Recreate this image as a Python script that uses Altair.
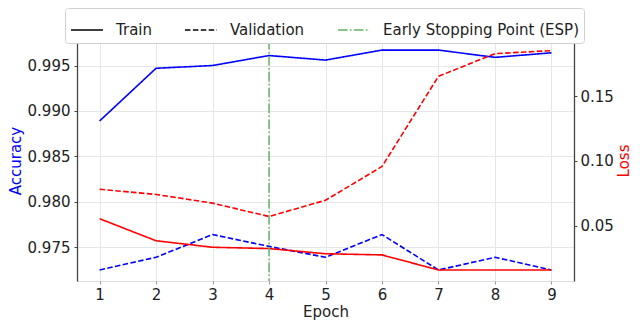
import altair as alt
import pandas as pd

epochs = [1, 2, 3, 4, 5, 6, 7, 8, 9]
train_acc = [0.9889, 0.9947, 0.9950, 0.9961, 0.9956, 0.9967, 0.9967, 0.9959, 0.9964]
val_acc = [0.9725, 0.9739, 0.9764, 0.9751, 0.9739, 0.9764, 0.9725, 0.9739, 0.9725]
train_loss = [0.0555, 0.0385, 0.0335, 0.0325, 0.0285, 0.0276, 0.0160, 0.0160, 0.0160]
val_loss = [0.0782, 0.0742, 0.0675, 0.0572, 0.0697, 0.0957, 0.1652, 0.1827, 0.1850]
esp_epoch = [4]
kinds = ["Train", "Validation"]
series_names = ["Train", "Validation", "Early Stopping Point (ESP)"]
acc_ticks = [0.975, 0.980, 0.985, 0.990, 0.995]
loss_ticks = [0.05, 0.10, 0.15]

acc_df = pd.DataFrame({
    "epoch": epochs + epochs,
    "value": train_acc + val_acc,
    "kind": [kinds[0]] * len(epochs) + [kinds[1]] * len(epochs),
})
loss_df = pd.DataFrame({
    "epoch": epochs + epochs,
    "value": train_loss + val_loss,
    "kind": [kinds[0]] * len(epochs) + [kinds[1]] * len(epochs),
})
esp_df = pd.DataFrame({"epoch": esp_epoch, "series": [series_names[2]]})

FONT = "DejaVu Sans"
W, H = 497, 241
x_scale = alt.Scale(domain=[0.6, 9.4], nice=False, zero=False)
kind_dash = alt.Scale(domain=kinds, range=[[1, 0], [5.5, 2.4]])

acc = alt.Chart(acc_df).mark_line(color="blue", strokeWidth=1.6).encode(
    x=alt.X("epoch:Q", scale=x_scale,
            axis=alt.Axis(orient="bottom", values=epochs, title="Epoch", grid=True, gridColor="#e6e6e6",
                          domain=False, tickSize=3, tickColor="#999999", labelPadding=3,
                          labelFontSize=15, titleFontSize=15, titleFontWeight="normal",
                          labelColor="#222222", titleColor="#222222",
                          titleY=23, titleBaseline="top")),
    y=alt.Y("value:Q", scale=alt.Scale(domain=[0.97129, 0.99781], nice=False, zero=False),
            axis=alt.Axis(orient="left", values=acc_ticks, format=".3f", title="Accuracy",
                          titleColor="blue", grid=True, gridColor="#e6e6e6",
                          tickSize=3, tickColor="#444444", domainColor="#444444", domainWidth=1.3,
                          labelFontSize=15, titleFontSize=15, titleFontWeight="normal",
                          labelColor="#222222", labelPadding=4,
                          titleX=-62, titleY=H / 2, titleAngle=270, titleBaseline="middle",
                          titleAlign="center")),
    strokeDash=alt.StrokeDash("kind:N", scale=kind_dash, legend=None),
)

loss = alt.Chart(loss_df).mark_line(color="red", strokeWidth=1.6).encode(
    x=alt.X("epoch:Q", scale=x_scale, axis=None),
    y=alt.Y("value:Q", scale=alt.Scale(domain=[0.0075, 0.1932], nice=False, zero=False),
            axis=alt.Axis(orient="right", values=loss_ticks, format=".2f", title="Loss",
                          titleColor="red", grid=False,
                          tickSize=3, tickColor="#444444", domainColor="#444444", domainWidth=1.3,
                          labelFontSize=15, titleFontSize=15, titleFontWeight="normal",
                          labelColor="#222222", labelPadding=3,
                          titleX=49, titleY=H / 2, titleAngle=270, titleBaseline="middle",
                          titleAlign="center")),
    strokeDash=alt.StrokeDash("kind:N", scale=kind_dash, legend=None),
)

legend = alt.Legend(orient="none", legendX=-12, legendY=-32, direction="horizontal",
                    title=None, labelFontSize=15, labelFont=FONT, labelColor="#222222",
                    symbolType="stroke", symbolSize=1024, symbolStrokeWidth=1.5,
                    labelOffset=12, columnPadding=30, padding=5, labelLimit=400,
                    strokeColor="#d0d0d0", fillColor="white", cornerRadius=3)

esp = alt.Chart(esp_df).mark_rule(strokeWidth=1.5).encode(
    x=alt.X("epoch:Q", scale=x_scale,
            axis=alt.Axis(orient="top", labels=False, ticks=False, grid=False, title=None,
                          domain=True, domainColor="#333333", domainWidth=1.3)),
    color=alt.Color("series:N",
                    scale=alt.Scale(domain=series_names, range=["black", "black", "#66b366"]),
                    legend=legend),
    strokeDash=alt.StrokeDash("series:N",
                              scale=alt.Scale(domain=series_names,
                                              range=[[1, 0], [5.5, 2.4], [9.6, 2.4, 1.5, 2.4]]),
                              legend=legend),
)

chart = alt.layer(acc, loss, esp).resolve_scale(
    y="independent", strokeDash="independent", color="independent"
).resolve_axis(x="independent").properties(
    width=W, height=H,
    padding={"left": 69, "top": 32, "right": 58, "bottom": 40},
    autosize=alt.AutoSizeParams(type="none"),
).configure_view(stroke=None).configure(font=FONT)

chart.save("out.html", embed_options={"renderer": "svg", "actions": False})
